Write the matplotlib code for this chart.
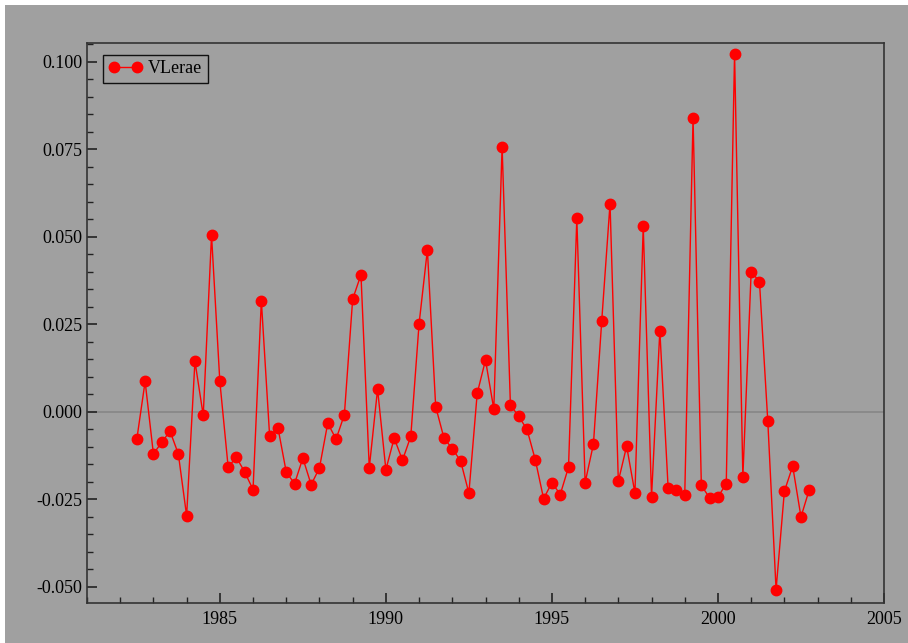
import numpy as np
import matplotlib.pyplot as plt
from matplotlib.patches import Rectangle
from matplotlib.ticker import MultipleLocator, FormatStrFormatter

# quarterly observations, 1982Q3 .. 2002Q4
start_year = 1982.5
vlerae = [
    -0.0078, 0.0087, -0.0120, -0.0087, -0.0055, -0.0120, -0.0297, 0.0145,
    -0.0010, 0.0505, 0.0087, -0.0157, -0.0130, -0.0172, -0.0222, 0.0318,
    -0.0070, -0.0045, -0.0172, -0.0205, -0.0132, -0.0208, -0.0160, -0.0032,
    -0.0078, -0.0008, 0.0322, 0.0392, -0.0160, 0.0065, -0.0165, -0.0075,
    -0.0138, -0.0070, 0.0252, 0.0463, 0.0015, -0.0075, -0.0105, -0.0140,
    -0.0232, 0.0053, 0.0148, 0.0008, 0.0758, 0.0020, -0.0013, -0.0050,
    -0.0137, -0.0248, -0.0202, -0.0236, -0.0158, 0.0553, -0.0202, -0.0092,
    0.0260, 0.0595, -0.0198, -0.0098, -0.0232, 0.0530, -0.0242, 0.0232,
    -0.0218, -0.0222, -0.0238, 0.0840, -0.0210, -0.0246, -0.0243, -0.0205,
    0.1023, -0.0185, 0.0401, 0.0372, -0.0025, -0.0508, -0.0227, -0.0155,
    -0.0300, -0.0222,
]
years = start_year + np.arange(len(vlerae)) * 0.25

bg = '#a0a0a0'
plt.rcParams['font.family'] = ['Liberation Serif', 'DejaVu Serif']

fig = plt.figure(figsize=(9.08, 6.43), dpi=100, facecolor='white')
fig.patches.append(Rectangle((5 / 908, 0), 1 - 5 / 908, 638 / 643,
                             transform=fig.transFigure, facecolor=bg,
                             edgecolor='none', zorder=-10))
ax = fig.add_axes([87 / 908, 40 / 643, 797 / 908, 560 / 643])
ax.set_facecolor(bg)

ax.axhline(0, color='#888888', lw=1.3, zorder=1)
ax.plot(years, vlerae, color='#ff0000', lw=1.0, marker='o', ms=7.5,
        mfc='#ff0000', mec='#ff0000', label='VLerae', zorder=3)

ax.set_xlim(1981, 2005)
ax.set_ylim(-0.0546, 0.1054)
ax.xaxis.set_major_locator(MultipleLocator(5))
ax.xaxis.set_minor_locator(MultipleLocator(1))
ax.yaxis.set_major_locator(MultipleLocator(0.025))
ax.yaxis.set_minor_locator(MultipleLocator(0.005))
ax.yaxis.set_major_formatter(FormatStrFormatter('%.3f'))

ax.tick_params(which='both', direction='in', top=False, right=False,
               color='#222222', labelsize=13)
ax.tick_params(axis='x', pad=6)
ax.tick_params(axis='y', pad=3.5)
ax.tick_params(which='major', length=7, width=1.2)
ax.tick_params(which='minor', length=4, width=1.0)
for s in ax.spines.values():
    s.set_color('#333333')
    s.set_linewidth(1.2)

leg = ax.legend(loc='upper left', numpoints=2, fontsize=13, frameon=True,
                fancybox=False, handlelength=1.9, borderpad=0.3,
                handletextpad=0.3, borderaxespad=0,
                bbox_to_anchor=(0.020, 0.979))
leg.get_frame().set_facecolor(bg)
leg.get_frame().set_edgecolor('#111111')
leg.get_frame().set_linewidth(1.0)
leg.get_frame().set_alpha(1)

fig.savefig('out.png', dpi=100, facecolor=fig.get_facecolor())
